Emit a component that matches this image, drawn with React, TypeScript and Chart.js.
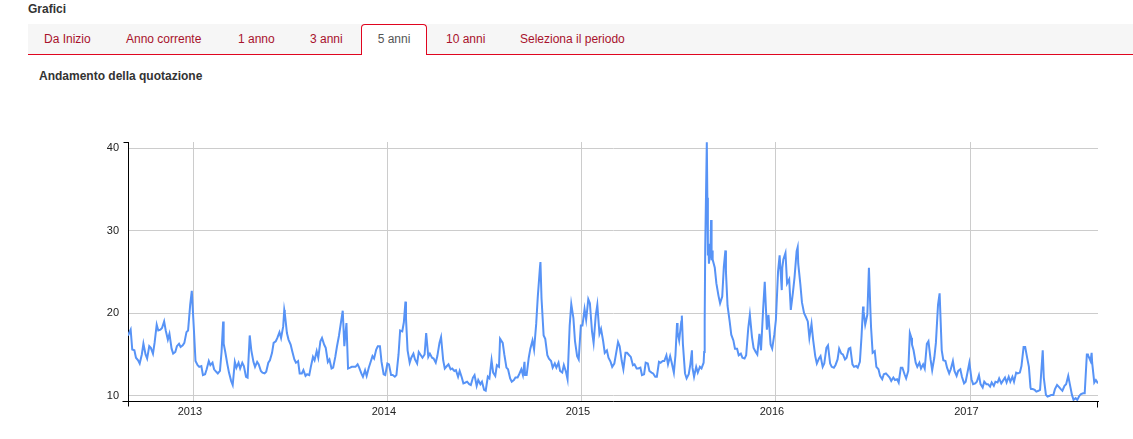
import React, { useEffect, useRef } from "react";
import { Chart, registerables } from "chart.js";

Chart.register(...registerables);

// ---- Texts ----
const PAGE_TITLE = "Grafici";
const TABS = ["Da Inizio", "Anno corrente", "1 anno", "3 anni", "5 anni", "10 anni", "Seleziona il periodo"];
const TAB_LEFT = [0, 82, 194, 266, 333, 402, 476]; // tab box left edges inside the bar
const ACTIVE_TAB = "5 anni";
const CHART_TITLE = "Andamento della quotazione";

// ---- Axes ----
const X_START = "2012-08-30";
const X_END = "2017-08-29";
const X_TICK_DATES = ["2013-01-01", "2014-01-01", "2015-01-01", "2016-01-01", "2017-01-01"];
const X_TICK_LABELS = ["2013", "2014", "2015", "2016", "2017"];
const Y_TICKS = [10, 20, 30, 40];
const Y_MIN = 9.36;
const Y_MAX = 40.74;

// ---- Data (month-day per year, and values) ----
const days2012 = [
  "08-30","09-04","09-07","09-11","09-14","09-18","09-21","09-25","09-28","10-02",
  "10-05","10-09","10-12","10-16","10-19","10-23","10-26","10-30","11-02","11-06",
  "11-09","11-13","11-16","11-20","11-23","11-27","11-30","12-04","12-07","12-11",
  "12-14","12-18","12-21","12-25","12-28",
];
const values2012 = [
  17.3,18.0,15.6,15.5,14.6,14.3,13.9,15.0,16.3,15.0,
  14.5,16.0,15.8,15.1,16.4,18.6,17.9,18.0,18.2,19.0,
  17.9,16.8,17.5,15.7,15.1,15.3,16.0,16.3,15.9,16.1,
  16.4,17.7,17.9,21.0,22.7,
];

const days2013 = [
  "01-01","01-04","01-08","01-11","01-15","01-18","01-22","01-25","01-29","02-01",
  "02-05","02-08","02-12","02-15","02-19","02-22","02-25","02-26","03-01","03-05",
  "03-08","03-12","03-15","03-19","03-22","03-26","03-29","04-02","04-05","04-09",
  "04-12","04-16","04-19","04-23","04-26","04-30","05-03","05-07","05-10","05-14",
  "05-17","05-21","05-24","05-28","05-31","06-04","06-07","06-11","06-14","06-18",
  "06-20","06-21","06-25","06-28","07-02","07-05","07-09","07-12","07-16","07-19",
  "07-23","07-26","07-30","08-02","08-06","08-09","08-13","08-16","08-20","08-23",
  "08-27","08-30","09-03","09-06","09-10","09-13","09-17","09-20","09-24","09-27",
  "10-01","10-04","10-08","10-11","10-15","10-18","10-22","10-25","10-29","11-01",
  "11-05","11-08","11-12","11-15","11-19","11-22","11-26","11-29","12-03","12-06",
  "12-10","12-13","12-17","12-20","12-24","12-27","12-31",
];
const values2013 = [
  18.0,14.2,13.7,13.5,13.6,12.5,12.6,13.2,14.2,13.7,
  14.0,13.2,12.9,12.7,13.0,15.3,19.0,16.3,15.3,13.8,
  12.8,11.8,11.3,14.1,13.4,14.0,13.3,14.0,13.6,12.3,
  12.2,17.3,15.5,14.1,13.5,14.1,13.8,13.0,12.8,12.7,
  12.9,14.0,14.3,15.2,16.4,16.6,17.0,17.7,17.0,18.4,
  20.4,20.0,17.6,16.8,16.2,15.4,14.4,14.0,14.2,12.7,
  12.7,13.1,12.4,12.6,12.5,13.5,14.7,14.3,15.4,14.6,
  16.6,17.0,16.2,15.8,14.1,14.4,13.3,13.4,14.7,15.9,
  17.3,18.6,20.3,16.0,18.8,13.3,13.4,13.5,13.5,13.5,
  13.8,13.4,12.7,12.3,13.1,12.4,13.4,14.0,14.8,14.5,
  15.6,16.0,16.0,14.1,12.6,12.5,13.9,
];

const days2014 = [
  "01-03","01-07","01-10","01-14","01-17","01-21","01-24","01-28","01-31","02-03",
  "02-04","02-07","02-11","02-14","02-18","02-21","02-25","02-28","03-04","03-07",
  "03-11","03-14","03-18","03-21","03-25","03-28","04-01","04-04","04-08","04-11",
  "04-15","04-18","04-22","04-25","04-29","05-02","05-06","05-09","05-13","05-16",
  "05-20","05-23","05-27","05-30","06-03","06-06","06-10","06-13","06-17","06-20",
  "06-24","06-27","07-01","07-04","07-08","07-11","07-15","07-18","07-22","07-25",
  "07-29","07-31","08-01","08-05","08-08","08-12","08-15","08-19","08-22","08-26",
  "08-29","09-02","09-05","09-09","09-12","09-15","09-16","09-19","09-23","09-26",
  "09-30","10-03","10-07","10-10","10-14","10-15","10-17","10-21","10-24","10-28",
  "10-31","11-04","11-07","11-11","11-14","11-18","11-21","11-25","11-28","12-02",
  "12-05","12-09","12-12","12-16","12-19","12-23","12-26","12-30",
];
const values2014 = [
  13.8,12.5,12.5,12.3,12.5,15.0,17.9,17.8,18.9,21.4,
  19.4,15.5,14.0,14.6,15.1,14.4,13.9,15.3,14.9,14.6,
  15.0,17.6,14.7,15.1,14.6,14.5,14.0,14.8,16.4,17.1,
  14.3,13.3,13.6,13.8,13.2,13.3,13.0,13.1,12.3,13.0,
  12.2,11.5,11.6,11.7,11.4,11.3,12.2,12.5,11.2,11.9,
  11.4,11.7,10.7,10.6,12.3,12.1,14.3,12.8,12.4,13.7,
  13.5,16.9,16.8,16.4,15.0,13.4,13.2,12.1,11.7,11.9,
  12.2,12.2,12.6,13.2,12.5,14.1,12.5,12.5,14.6,15.7,
  16.7,15.6,18.7,22.0,25.5,26.2,21.8,17.3,16.9,14.9,
  14.5,14.2,13.4,13.9,13.4,14.0,13.0,12.8,13.7,12.9,
  12.0,18.5,21.1,19.4,16.6,14.8,14.4,18.5,
];

const days2015 = [
  "01-02","01-06","01-09","01-13","01-16","01-20","01-23","01-27","01-30","02-03",
  "02-06","02-10","02-13","02-17","02-20","02-24","02-27","03-03","03-06","03-10",
  "03-13","03-17","03-20","03-24","03-27","03-31","04-03","04-07","04-10","04-14",
  "04-17","04-21","04-24","04-28","05-01","05-05","05-08","05-12","05-15","05-19",
  "05-22","05-26","05-29","06-02","06-05","06-09","06-12","06-16","06-19","06-23",
  "06-26","06-29","06-30","07-03","07-07","07-08","07-10","07-14","07-17","07-21",
  "07-24","07-27","07-28","07-31","08-04","08-07","08-11","08-14","08-18","08-19",
  "08-20","08-21","08-24","08-25","08-26","08-27","08-28","08-31","09-01","09-02",
  "09-03","09-04","09-08","09-11","09-15","09-18","09-22","09-25","09-28","09-29",
  "10-02","10-06","10-09","10-13","10-16","10-20","10-23","10-27","10-30","11-03",
  "11-06","11-10","11-13","11-17","11-20","11-24","11-27","12-01","12-04","12-08",
  "12-11","12-15","12-18","12-22","12-25","12-29",
];
const values2015 = [
  18.5,20.5,19.2,21.7,21.2,17.8,16.4,19.7,21.0,17.5,
  18.1,16.6,15.2,15.5,14.6,14.1,13.5,13.9,15.0,16.5,
  16.0,14.2,13.2,15.2,15.2,14.9,14.7,13.7,13.8,13.3,
  13.3,13.4,12.5,12.6,14.0,13.9,13.0,12.8,12.7,12.3,
  12.3,14.1,14.0,14.2,14.2,14.9,13.8,14.8,14.0,12.8,
  14.9,18.8,17.7,16.7,19.0,19.7,16.3,12.7,12.1,12.6,
  13.8,15.5,13.4,12.3,13.5,12.8,13.5,13.3,14.0,15.3,
  19.1,28.0,40.7,34.0,27.0,28.4,26.0,28.0,31.3,26.4,
  27.6,26.5,25.5,23.6,22.1,21.2,22.0,25.6,27.6,25.0,
  20.9,19.0,17.4,16.7,15.7,15.7,14.9,15.1,14.6,14.5,
  14.9,18.2,19.8,17.1,15.8,15.3,15.0,17.5,15.5,20.5,
  23.8,18.0,19.8,16.2,15.7,17.4,
];

const days2016 = [
  "01-01","01-05","01-08","01-12","01-13","01-15","01-19","01-22","01-26","01-29",
  "02-02","02-05","02-09","02-11","02-12","02-16","02-19","02-23","02-26","03-01",
  "03-04","03-08","03-11","03-15","03-18","03-22","03-25","03-29","04-01","04-05",
  "04-08","04-12","04-15","04-19","04-22","04-26","04-29","05-03","05-06","05-10",
  "05-13","05-17","05-20","05-24","05-27","05-31","06-03","06-07","06-10","06-13",
  "06-14","06-17","06-21","06-24","06-27","06-28","07-01","07-05","07-08","07-12",
  "07-15","07-19","07-22","07-26","07-29","08-02","08-05","08-09","08-12","08-16",
  "08-19","08-23","08-26","08-30","09-02","09-06","09-09","09-12","09-13","09-16",
  "09-20","09-23","09-27","09-30","10-04","10-07","10-11","10-14","10-18","10-21",
  "10-25","10-28","11-01","11-04","11-08","11-11","11-15","11-18","11-22","11-25",
  "11-29","12-02","12-06","12-09","12-13","12-16","12-20","12-23","12-27","12-30",
];
const values2016 = [
  19.2,25.0,27.0,22.8,25.5,26.5,27.3,23.6,24.1,20.4,
  22.5,24.3,27.5,28.0,26.0,23.5,21.3,20.0,19.6,19.0,
  17.0,18.7,16.8,14.8,13.9,14.5,14.8,13.5,13.9,15.8,
  16.1,13.9,13.5,13.4,13.7,14.4,15.7,15.1,15.0,14.4,
  14.6,15.7,15.8,13.8,13.5,13.6,13.4,14.1,17.1,20.8,
  20.2,18.6,19.8,25.5,20.0,18.3,15.2,15.4,13.5,13.2,
  12.4,12.0,12.6,12.7,12.5,12.2,11.8,12.2,11.9,12.0,
  11.6,13.4,13.4,12.6,12.1,13.0,17.6,17.0,16.2,15.5,
  14.0,13.5,14.0,13.3,13.8,13.3,16.3,16.6,14.4,13.1,
  14.6,16.4,21.0,22.4,15.5,14.3,14.2,13.4,12.7,13.2,
  14.2,13.0,12.4,13.0,13.2,12.3,11.5,11.7,13.0,14.0,
];

const days2017 = [
  "01-03","01-06","01-10","01-13","01-17","01-20","01-24","01-27","01-31","02-03",
  "02-07","02-10","02-14","02-17","02-21","02-24","02-28","03-03","03-07","03-10",
  "03-14","03-17","03-21","03-24","03-28","03-31","04-04","04-07","04-11","04-14",
  "04-18","04-21","04-24","04-25","04-28","05-02","05-05","05-09","05-12","05-17",
  "05-19","05-23","05-26","05-30","06-02","06-06","06-09","06-13","06-16","06-20",
  "06-23","06-27","06-30","07-04","07-07","07-11","07-14","07-18","07-21","07-25",
  "07-28","08-01","08-04","08-08","08-10","08-11","08-15","08-17","08-18","08-22",
  "08-25","08-29",
];
const values2017 = [
  12.0,11.4,11.5,11.7,12.5,11.4,11.0,11.7,11.4,11.4,
  11.1,11.6,11.2,11.7,11.6,12.1,11.5,11.8,12.2,11.6,
  12.3,11.7,12.3,11.7,12.8,12.7,12.8,13.6,15.9,15.9,
  14.5,13.5,11.0,10.8,10.8,10.7,10.5,10.6,10.7,15.5,
  12.2,10.1,9.9,10.0,10.1,10.1,10.8,11.3,11.1,10.8,
  10.6,11.2,11.4,12.4,11.4,10.1,9.5,9.7,9.5,10.0,
  10.2,10.3,10.3,15.0,15.0,14.8,14.2,15.2,14.0,11.6,
  11.9,11.5,
];

const YEARS: [string, string[], number[]][] = [
  ["2012", days2012, values2012],
  ["2013", days2013, values2013],
  ["2014", days2014, values2014],
  ["2015", days2015, values2015],
  ["2016", days2016, values2016],
  ["2017", days2017, values2017],
];

// ---- Styles ----
const FONT = '"Liberation Sans", Arial, Helvetica, sans-serif';
const LINE_COLOR = "#5793f6";
const GRID_COLOR = "#cccccc";
const RED = "#e0051f";
const TAB_TEXT = "#a8122c";

function buildPoints() {
  const pts: { x: number; y: number }[] = [];
  for (const [year, days, vals] of YEARS) {
    const n = Math.min(days.length, vals.length);
    for (let i = 0; i < n; i++) {
      pts.push({ x: Date.parse(`${year}-${days[i]}T00:00:00Z`), y: vals[i] });
    }
  }
  return pts;
}

const axisDecor = {
  id: "axisDecor",
  afterDraw(chart: any) {
    const { ctx, chartArea } = chart;
    const { left, right, top, bottom } = chartArea;
    const l = Math.round(left) + 0.5;
    const r = Math.round(right) - 0.5;
    const t = Math.round(top) + 0.5;
    const b = Math.round(bottom) + 0.5;
    ctx.save();
    ctx.strokeStyle = "#000";
    ctx.lineWidth = 1;
    ctx.beginPath();
    ctx.moveTo(l - 5, t);
    ctx.lineTo(l, t);
    ctx.moveTo(l - 6, b);
    ctx.lineTo(l, b);
    ctx.moveTo(l, b);
    ctx.lineTo(l, b + 5);
    ctx.moveTo(r, b);
    ctx.lineTo(r, b + 6);
    ctx.stroke();
    ctx.restore();
  },
};

function LineChart() {
  const ref = useRef<HTMLCanvasElement | null>(null);
  useEffect(() => {
    if (!ref.current) return;
    const xTickValues = X_TICK_DATES.map((d) => Date.parse(`${d}T00:00:00Z`));
    const chart = new Chart(ref.current, {
      type: "line",
      data: {
        datasets: [
          {
            data: buildPoints(),
            borderColor: LINE_COLOR,
            borderWidth: 2,
            pointRadius: 0,
            pointHoverRadius: 0,
            fill: false,
            tension: 0,
          },
        ],
      },
      options: {
        animation: false,
        responsive: false,
        devicePixelRatio: 1,
        layout: { padding: { top: 22, right: 35, bottom: 0, left: 0 } },
        plugins: { legend: { display: false }, tooltip: { enabled: false } },
        scales: {
          x: {
            type: "linear",
            min: Date.parse(`${X_START}T00:00:00Z`),
            max: Date.parse(`${X_END}T00:00:00Z`),
            afterBuildTicks: (s: any) => {
              s.ticks = xTickValues.map((v) => ({ value: v }));
            },
            afterFit: (s: any) => {
              s.height = 38;
            },
            grid: { color: GRID_COLOR, lineWidth: 1, drawTicks: false },
            border: { display: true, color: "#000", width: 1 },
            ticks: {
              autoSkip: false,
              maxRotation: 0,
              padding: 4,
              labelOffset: -4,
              color: "#222",
              font: { family: FONT, size: 11 },
              callback: (v: any) => {
                const i = xTickValues.indexOf(Number(v));
                return i >= 0 ? X_TICK_LABELS[i] : "";
              },
            },
          },
          y: {
            type: "linear",
            min: Y_MIN,
            max: Y_MAX,
            afterBuildTicks: (s: any) => {
              s.ticks = Y_TICKS.map((v) => ({ value: v }));
            },
            afterFit: (s: any) => {
              s.width = 128;
            },
            grid: { color: GRID_COLOR, lineWidth: 1, drawTicks: false },
            border: { display: true, color: "#000", width: 1 },
            ticks: {
              padding: 9,
              color: "#222",
              font: { family: FONT, size: 11 },
              callback: (v: any) => String(v),
            },
          },
        },
      },
      plugins: [axisDecor],
    } as any);
    return () => chart.destroy();
  }, []);
  return (
    <canvas
      ref={ref}
      width={1133}
      height={319}
      style={{ position: "absolute", left: 0, top: 120, width: 1133, height: 319 }}
    />
  );
}

export default function App() {
  return (
    <div
      style={{
        position: "absolute",
        left: 0,
        top: 0,
        width: 1133,
        height: 439,
        background: "#fff",
        fontFamily: FONT,
        overflow: "hidden",
      }}
    >
      <div
        style={{
          position: "absolute",
          left: 28,
          top: 2,
          fontSize: 12,
          lineHeight: "15px",
          fontWeight: "bold",
          color: "#333",
        }}
      >
        {PAGE_TITLE}
      </div>
      <div
        style={{
          position: "absolute",
          left: 28,
          top: 24,
          width: 1105,
          height: 30,
          background: "#f6f6f6",
          borderBottom: `1px solid ${RED}`,
        }}
      >
        {TABS.map((t, i) => {
          const active = t === ACTIVE_TAB;
          return (
            <div
              key={t}
              style={
                active
                  ? {
                      position: "absolute",
                      left: TAB_LEFT[i],
                      top: 0,
                      boxSizing: "border-box",
                      width: 66,
                      height: 31,
                      lineHeight: "28px",
                      textAlign: "center",
                      background: "#fff",
                      borderTop: `1px solid ${RED}`,
                      borderLeft: `1px solid ${RED}`,
                      borderRight: `1px solid ${RED}`,
                      borderRadius: "4px 4px 0 0",
                      color: "#555",
                      fontSize: 12,
                      whiteSpace: "nowrap",
                      zIndex: 1,
                    }
                  : {
                      position: "absolute",
                      left: TAB_LEFT[i],
                      top: 0,
                      height: 30,
                      lineHeight: "30px",
                      padding: "0 16px",
                      color: TAB_TEXT,
                      fontSize: 12,
                      whiteSpace: "nowrap",
                    }
              }
            >
              {t}
            </div>
          );
        })}
      </div>
      <div
        style={{
          position: "absolute",
          left: 39,
          top: 69,
          fontSize: 12,
          lineHeight: "15px",
          fontWeight: "bold",
          color: "#333",
        }}
      >
        {CHART_TITLE}
      </div>
      <LineChart />
    </div>
  );
}
